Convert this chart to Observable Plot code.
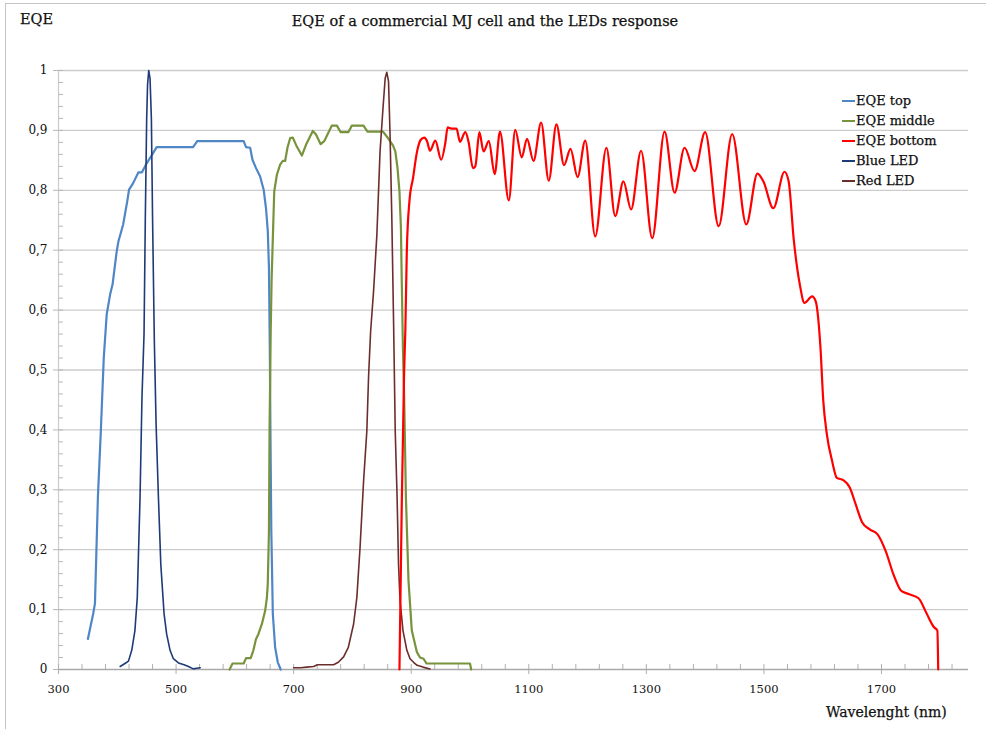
<!DOCTYPE html>
<html>
<head>
<meta charset="utf-8">
<script src="https://cdn.jsdelivr.net/npm/d3@7"></script>
<script src="https://cdn.jsdelivr.net/npm/@observablehq/plot@0.6"></script>
<style>
  body { margin: 0; background: #fff; }
  #wrap { position: relative; width: 986px; height: 729px; font-family: "DejaVu Serif", serif; color: #111; overflow: hidden; }
  #wrap svg { position: absolute; left: 0; top: 0; }
  #wrap svg text { -webkit-text-stroke: 0.2px #111; }
  .frame-top { position: absolute; left: 5px; top: 3px; width: 981px; height: 0; border-top: 1px solid #c4c4c4; }
  .frame-left { position: absolute; left: 5px; top: 3px; width: 0; height: 726px; border-left: 1px solid #c4c4c4; }
  .txt { -webkit-text-stroke: 0.25px #111; }
  .title { position: absolute; top: 13px; left: 0; width: 970px; text-align: center; font-size: 14.5px; }
  .ylabel { position: absolute; top: 11px; left: 20px; font-size: 14.5px; }
  .xlabel { position: absolute; top: 704px; left: 826px; font-size: 14px; }
  .legend { position: absolute; left: 842px; top: 91px; font-size: 13px; line-height: 20px; }
  .legend div { display: flex; align-items: center; white-space: nowrap; }
  .legend span.sw { display: inline-block; width: 13px; height: 2px; margin-right: 1px; }
</style>
</head>
<body>
<div id="wrap">
  <div class="frame-top"></div>
  <div class="frame-left"></div>
  <div class="title txt">EQE of a commercial MJ cell and the LEDs response</div>
  <div class="ylabel txt">EQE</div>
  <div class="xlabel txt">Wavelenght (nm)</div>
</div>
<script>
// Wavelength (nm) and external quantum efficiency of each subcell, plus LED spectra (normalised)
const eqeTop = [
  [350,0.051],[359,0.093],[362,0.11],[367,0.287],[372,0.398],[377,0.52],[382,0.593],[388,0.627],
  [392,0.643],[399,0.698],[402,0.715],[410,0.743],[417,0.782],[420,0.801],[427,0.812],[436,0.83],
  [442,0.83],[450,0.845],[459,0.859],[467,0.872],[529,0.872],[536,0.882],[615,0.882],[619,0.872],
  [626,0.871],[630,0.851],[636,0.837],[643,0.823],[649,0.801],[653,0.77],[656,0.732],[658,0.671],
  [659.5,0.532],[660.5,0.398],[662,0.232],[664.6,0.093],[668.5,0.037],[673,0.012],[678,0]
];
const eqeMiddle = [
  [591,0],[596,0.01],[615,0.01],[619,0.019],[627,0.019],[631.5,0.032],[636,0.051],[640,0.059],
  [646,0.076],[651.5,0.098],[654.5,0.12],[656,0.143],[658,0.232],[659,0.398],[661,0.565],[662.5,0.65],
  [664.6,0.72],[667,0.798],[671.5,0.826],[677,0.843],[681.6,0.849],[685.5,0.849],[689.5,0.871],
  [694,0.887],[698.6,0.888],[705.4,0.873],[714,0.858],[721,0.876],[732.6,0.899],[738,0.893],
  [746,0.877],[752,0.882],[765,0.908],[773.6,0.908],[780,0.897],[793,0.897],[799,0.908],[818.8,0.908],
  [825.6,0.898],[852,0.898],[861.4,0.886],[868.9,0.875],[873,0.865],[876.7,0.837],[880,0.798],
  [882.5,0.737],[884,0.643],[886,0.532],[888,0.454],[891,0.287],[895.4,0.148],[901,0.065],
  [909.7,0.029],[915,0.02],[921,0.018],[926,0.01],[1000,0.01],[1002,0]
];
const eqeBottom = [
  [880,0],[884,0.28],[888,0.5],[890,0.565],[892.5,0.698],[897,0.782],[903,0.82],[910,0.865],
  [916,0.884],[922,0.888],[927,0.882],[932,0.866],[941,0.883],[951,0.851],[958,0.879],[962,0.905],
  [968,0.903],[977,0.903],[983,0.881],[992,0.897],[997.5,0.881],[1005,0.837],[1009,0.84],[1016,0.897],
  [1023,0.865],[1032,0.882],[1042,0.827],[1051,0.898],[1066,0.783],[1077,0.901],[1088,0.855],
  [1097,0.886],[1108,0.849],[1121,0.913],[1134,0.816],[1147,0.91],[1160,0.842],[1171,0.869],
  [1183,0.822],[1196,0.883],[1213,0.723],[1232,0.871],[1247,0.757],[1261,0.815],[1274,0.768],
  [1291,0.866],[1310,0.72],[1331,0.898],[1348,0.796],[1365,0.871],[1382,0.832],[1400,0.897],
  [1423,0.74],[1446,0.894],[1470,0.743],[1489,0.828],[1499,0.815],[1516,0.77],[1535,0.831],
  [1542,0.815],[1551,0.715],[1561,0.643],[1569,0.612],[1582,0.623],[1588,0.615],[1596,0.54],
  [1601,0.448],[1607,0.393],[1616,0.348],[1624,0.32],[1635,0.316],[1646,0.304],[1656,0.276],
  [1667,0.246],[1680,0.234],[1693,0.226],[1707,0.198],[1721,0.157],[1733,0.132],[1746,0.126],
  [1763,0.119],[1777,0.093],[1789,0.071],[1795,0.065],[1796.5,0]
];
const blueLed = [
  [405,0.005],[413,0.01],[419,0.014],[424.6,0.032],[430,0.065],[434,0.12],[438.7,0.287],[442,0.454],
  [445.5,0.56],[447.7,0.754],[450,0.92],[451.5,0.976],[453.5,1],[455.7,0.987],[458,0.92],[460,0.754],
  [463,0.55],[466,0.41],[470,0.287],[474,0.176],[479.6,0.093],[484,0.059],[489.8,0.032],[495.4,0.018],
  [504,0.011],[513.6,0.008],[521,0.005],[529.5,0.001],[535,0.002],[541,0.003]
];
const redLed = [
  [700,0.003],[712,0.003],[722,0.004],[734,0.005],[740.5,0.008],[768,0.008],[776,0.012],[785,0.021],
  [793,0.037],[802,0.076],[807.5,0.12],[813,0.204],[819,0.315],[824.5,0.398],[827.5,0.49],[831,0.565],
  [836,0.632],[841.6,0.726],[847,0.865],[852,0.937],[855.7,0.987],[858.5,0.997],[861.4,0.982],
  [864,0.893],[867,0.754],[870,0.58],[872.8,0.398],[876,0.287],[878.4,0.176],[881,0.115],[886,0.065],
  [892.6,0.032],[898,0.018],[904,0.012],[910,0.007],[920,0.004],[932,0.001]
];

// Series names and colours, in legend order
const seriesNames = ["EQE top", "EQE middle", "EQE bottom", "Blue LED", "Red LED"];
const seriesColors = ["#4f86c6", "#77933c", "#ff0000", "#1f3a78", "#6b2e2c"];

// Axis ticks
const xTicks = [300, 500, 700, 900, 1100, 1300, 1500, 1700];
const xMinorTicks = d3.range(300, 1821, 40);
const yTicks = d3.range(0, 11).map(i => i / 10);
const yMinorTicks = d3.range(0, 51).map(i => i / 50);

const commaFormat = d => (d === 0 ? "0" : d === 1 ? "1" : d.toFixed(1).replace(".", ","));

const seriesLine = (data, i, width, curve) =>
  Plot.line(data, {x: d => d[0], y: d => d[1], stroke: seriesColors[i], strokeWidth: width, curve});

const chart = Plot.plot({
  width: 986,
  height: 729,
  marginTop: 70,
  marginBottom: 60,
  marginLeft: 58,
  marginRight: 18,
  style: {fontFamily: "DejaVu Serif, serif", fontSize: "11.5px", color: "#111", background: "transparent", overflow: "visible"},
  x: {domain: [300, 1848], label: null},
  y: {domain: [0, 1], label: null},
  marks: [
    Plot.ruleY(yTicks.filter(d => d > 0), {stroke: "#cccccc", strokeWidth: 1.3}),
    Plot.ruleX([300], {stroke: "#cccccc", strokeWidth: 1.2}),
    Plot.axisY({ticks: yMinorTicks, tickSize: -5, tickFormat: () => "", stroke: "#b8b8b8"}),
    Plot.axisY({ticks: yTicks, tickSize: 5, tickPadding: 6, tickFormat: commaFormat, stroke: "#b8b8b8", fontSize: 12}),
    Plot.axisX({ticks: xMinorTicks, tickSize: -5, tickFormat: () => "", stroke: "#b0b0b0"}),
    Plot.axisX({ticks: xTicks, tickSize: 5, tickPadding: 10, tickFormat: d => String(d), stroke: "#b0b0b0", fontSize: 11.5}),
    Plot.ruleY([0], {stroke: "#a9a9a9", strokeWidth: 1.3}),
    seriesLine(eqeTop, 0, 2.2, "linear"),
    seriesLine(eqeMiddle, 1, 2.2, "linear"),
    seriesLine(blueLed, 3, 1.6, "linear"),
    seriesLine(redLed, 4, 1.6, "linear"),
    seriesLine(eqeBottom, 2, 2.2, "monotone-x")
  ]
});

const wrap = document.getElementById("wrap");
wrap.insertBefore(chart, wrap.firstChild);

// Legend drawn inside the plot area, upper right
const legend = document.createElement("div");
legend.className = "legend txt";
seriesNames.forEach((name, i) => {
  const row = document.createElement("div");
  const sw = document.createElement("span");
  sw.className = "sw";
  sw.style.background = seriesColors[i];
  row.appendChild(sw);
  row.appendChild(document.createTextNode(name));
  legend.appendChild(row);
});
wrap.appendChild(legend);
</script>
</body>
</html>
